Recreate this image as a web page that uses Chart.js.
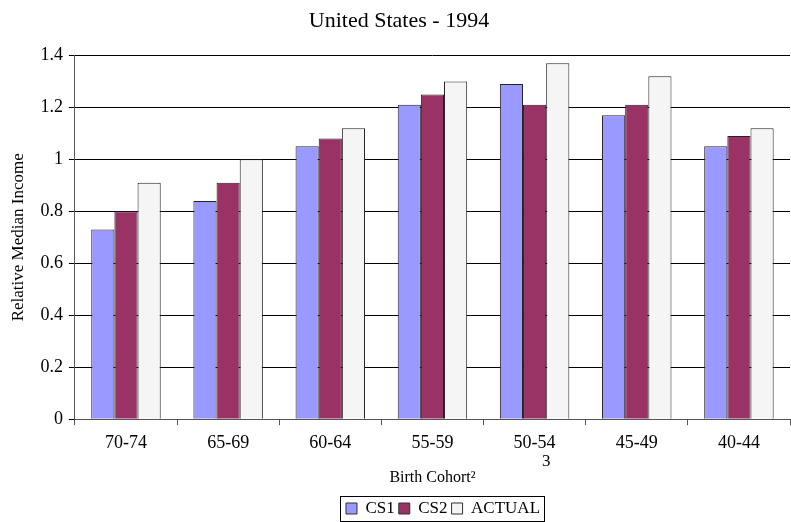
<!DOCTYPE html>
<html>
<head>
<meta charset="utf-8">
<style>
  body { margin: 0; background: #fff; }
  #wrap { width: 791px; height: 522px; }
</style>
<script src="https://cdn.jsdelivr.net/npm/chart.js@4/dist/chart.umd.min.js"></script>
</head>
<body>
<div id="wrap"><canvas id="myChart"></canvas></div>
<script>
// birth cohorts on the x axis
let cohorts = ['70-74', '65-69', '60-64', '55-59', '50-54', '45-49', '40-44'];
let cs1 = [0.73, 0.84, 1.05, 1.21, 1.29, 1.17, 1.05];
let cs2 = [0.80, 0.91, 1.08, 1.25, 1.21, 1.21, 1.09];
let actual = [0.91, 1.00, 1.12, 1.30, 1.37, 1.32, 1.12];
let yTicks = [0, 0.2, 0.4, 0.6, 0.8, 1, 1.2, 1.4];

let serif = "'Liberation Serif', 'Times New Roman', serif";
Chart.defaults.font.family = serif;
Chart.defaults.color = '#000';

// legend sits a bit right of centre and low in the original
const LEGEND_DX = 44;
const LEGEND_DY = 5;

// box round the legend + footnote "3"
const legendBox = {
    id: 'legendBox',
    afterUpdate(chart) {
        const lg = chart.legend;
        if (!lg) return;
        lg.left += LEGEND_DX;
        lg.right += LEGEND_DX;
        lg.top += LEGEND_DY;
        lg.bottom += LEGEND_DY;
    },
    afterDraw(chart) {
        const lg = chart.legend;
        if (!lg || !lg.lineWidths) return;
        const pad = lg.options.labels.padding;
        const w = lg.lineWidths[0];
        const x0 = (lg.left + pad + lg.right - w) / 2;
        const x1 = x0 - 6;
        const x2 = x0 + w - pad + 4;
        const fs = lg.options.labels.font.size;
        const y1 = lg.top + pad - 4;
        const y2 = lg.top + pad + fs + 4;
        const ctx = chart.ctx;
        ctx.save();
        ctx.strokeStyle = '#000';
        ctx.lineWidth = 1;
        ctx.strokeRect(Math.round(x1) + 0.5, Math.round(y1) + 0.5, Math.round(x2 - x1), Math.round(y2 - y1));
        ctx.font = '17px ' + serif;
        ctx.fillStyle = '#000';
        ctx.textBaseline = 'bottom';
        ctx.fillText('3', x2 - 2, y1 - 26);
        ctx.restore();
    }
};

let chart = new Chart(document.getElementById('myChart').getContext('2d'), {
    type: 'bar',
    data: {
        labels: cohorts,
        datasets: [
            { label: 'CS1', data: cs1, backgroundColor: '#9999FF', borderColor: '#222', borderWidth: 1 },
            { label: 'CS2', data: cs2, backgroundColor: '#993366', borderColor: '#222', borderWidth: 1 },
            { label: 'ACTUAL', data: actual, backgroundColor: '#F5F5F5', borderColor: '#222', borderWidth: 1 }
        ]
    },
    options: {
        responsive: true,
        maintainAspectRatio: false,
        animation: false,
        categoryPercentage: 0.68,
        barPercentage: 1,
        layout: { padding: { top: 6, right: 1, left: 8, bottom: 0 } },
        plugins: {
            title: {
                display: true,
                text: 'United States - 1994',
                font: { size: 22, weight: 'normal' },
                padding: { top: 2, bottom: 21 }
            },
            legend: {
                position: 'bottom',
                labels: {
                    boxWidth: 11,
                    boxHeight: 11,
                    padding: 4,
                    font: { size: 17 },
                    generateLabels(c) {
                        return c.data.datasets.map((d, i) => ({
                            text: d.label,
                            fillStyle: d.backgroundColor,
                            strokeStyle: '#333',
                            lineWidth: 1,
                            datasetIndex: i
                        }));
                    }
                }
            },
            tooltip: { enabled: false }
        },
        scales: {
            x: {
                grid: { drawOnChartArea: false, color: '#555', tickLength: 6 },
                border: { color: '#555' },
                ticks: { font: { size: 18 }, padding: 7 },
                title: { display: true, text: 'Birth Cohort\u00B2', font: { size: 16 }, padding: { top: 7, bottom: 4 } }
            },
            y: {
                min: 0,
                max: 1.4,
                afterBuildTicks(axis) { axis.ticks = yTicks.map(v => ({ value: v })); },
                grid: { color: '#000', tickLength: 6 },
                border: { color: '#555' },
                ticks: { font: { size: 18 }, padding: 6, callback: v => String(v) },
                title: { display: true, text: 'Relative Median Income', font: { size: 17 }, padding: { top: 0, bottom: 6 } }
            }
        }
    },
    plugins: [legendBox]
});
</script>
</body>
</html>
